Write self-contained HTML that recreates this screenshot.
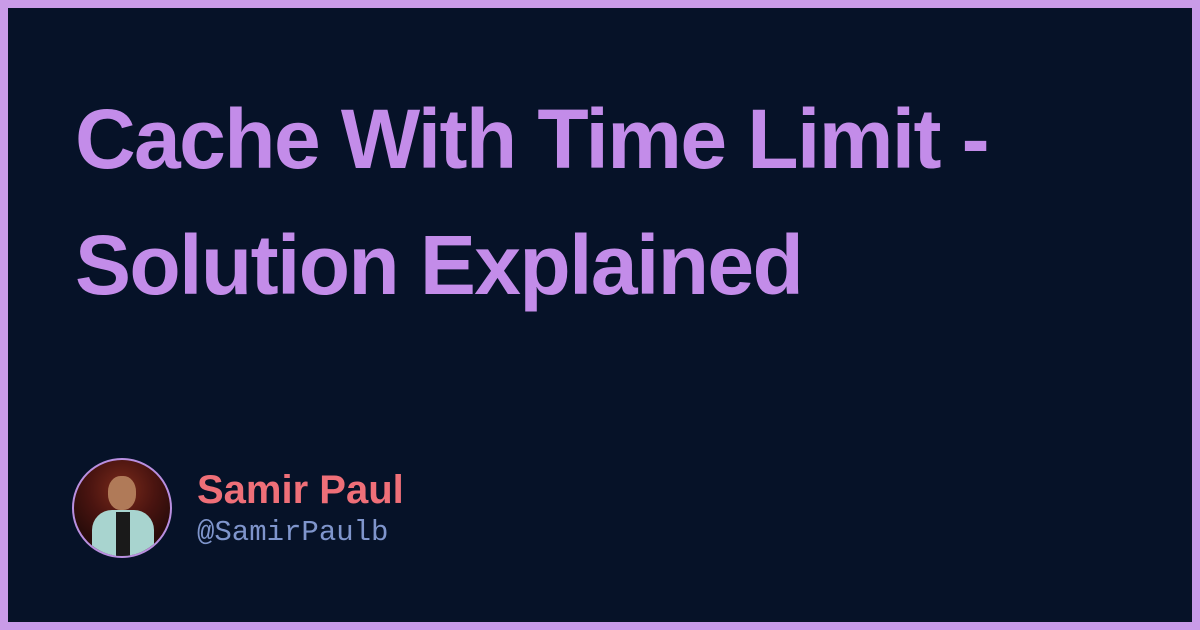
<!DOCTYPE html>
<html><head><meta charset="utf-8"><style>
html,body{margin:0;padding:0}
body{width:1200px;height:630px;overflow:hidden;background:#c99be8;position:relative;font-family:"Liberation Sans",sans-serif}
.inner{position:absolute;left:8px;top:8px;right:8px;bottom:8px;background:#061228}
.title{position:absolute;left:75px;top:76px;margin:0;font-size:84px;line-height:126px;color:#c38ce9;font-weight:bold;letter-spacing:-1.6px;width:1100px;white-space:nowrap}
.avatar{position:absolute;left:72px;top:458px;width:96px;height:96px;border-radius:50%;border:2px solid #b98fe0;background:radial-gradient(circle at 50% 30%,#7a2a1a 0,#4a1410 40%,#2a0c0a 70%);overflow:hidden}
.suit{position:absolute;left:18px;top:50px;width:62px;height:60px;background:#a8d4cf;border-radius:20px 20px 0 0}
.shirt{position:absolute;left:42px;top:52px;width:14px;height:50px;background:#1a1a1a}
.face{position:absolute;left:34px;top:16px;width:28px;height:34px;background:#b07a58;border-radius:45%}
.name{position:absolute;left:197px;top:466px;font-size:40px;font-weight:bold;color:#ef6f78;margin:0;line-height:48px}
.handle{position:absolute;left:197px;top:515px;font-family:"Liberation Mono",monospace;font-size:29px;color:#7f95cc;line-height:36px}
</style></head><body>
<div class="inner"></div>
<h1 class="title">Cache With Time Limit -<br>Solution Explained</h1>
<div class="avatar"><div class="suit"></div><div class="shirt"></div><div class="face"></div></div>
<div class="name">Samir Paul</div>
<div class="handle">@SamirPaulb</div>
</body></html>
